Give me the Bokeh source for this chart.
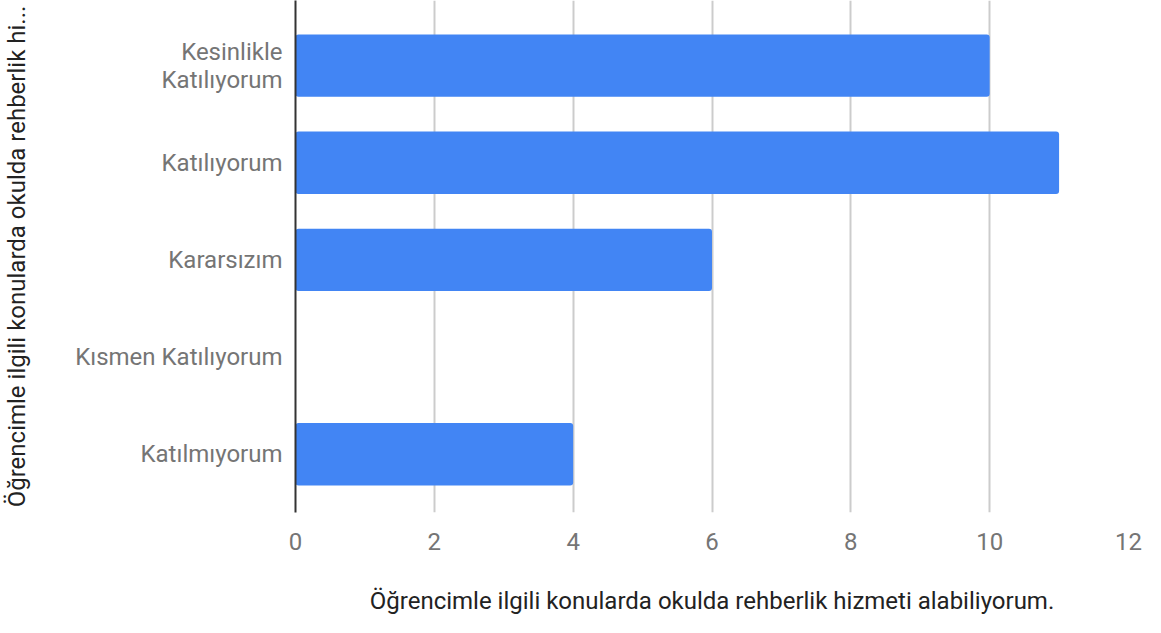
from bokeh.plotting import figure
from bokeh.models import Range1d, FixedTicker, ColumnDataSource
from bokeh.embed import file_html
from bokeh.resources import INLINE

categories = ["Kesinlikle\nKatılıyorum", "Katılıyorum", "Kararsızım", "Kısmen Katılıyorum", "Katılmıyorum"]
values = [10, 11, 6, 0, 4]
x_ticks = [0, 2, 4, 6, 8, 10, 12]
x_title = "Öğrencimle ilgili konularda okulda rehberlik hizmeti alabiliyorum."
y_title = "Öğrencimle ilgili konularda okulda rehberlik hi..."

n = len(categories)
pos = list(range(n))
src = ColumnDataSource(dict(y=pos, v=values))

p = figure(width=1145, height=617, output_backend="svg", toolbar_location=None,
           x_range=Range1d(0, 12), y_range=Range1d(n - 0.4, -0.67))
p.min_border_left = 288
p.min_border_right = 17
p.min_border_top = 0
p.min_border_bottom = 100
p.outline_line_color = None
p.background_fill_color = "white"
p.border_fill_color = "white"

p.hbar(y="y", right="v", left=0, height=0.642, source=src,
       fill_color="#4285F4", line_color=None, border_radius=3)

font = "Roboto"
# x axis
xa = p.xaxis[0]
xa.ticker = FixedTicker(ticks=x_ticks)
xa.axis_line_color = None
xa.major_tick_line_color = None
xa.minor_tick_line_color = None
xa.major_label_standoff = 14
xa.major_label_text_font = font
xa.major_label_text_font_size = "24px"
xa.major_label_text_color = "#757575"
xa.axis_label = x_title
xa.axis_label_text_font = font
xa.axis_label_text_font_size = "24px"
xa.axis_label_text_font_style = "normal"
xa.axis_label_text_color = "#222222"
xa.axis_label_standoff = 34

# y axis
ya = p.yaxis[0]
ya.ticker = FixedTicker(ticks=pos)
ya.major_label_overrides = {i: c for i, c in zip(pos, categories)}
ya.axis_line_color = "#333333"
ya.axis_line_width = 2
ya.major_tick_line_color = None
ya.minor_tick_line_color = None
ya.major_label_standoff = 7
ya.major_label_text_font = font
ya.major_label_text_font_size = "24px"
ya.major_label_text_line_height = 1.0
ya.major_label_text_color = "#757575"
ya.axis_label = y_title
ya.axis_label_text_font = font
ya.axis_label_text_font_size = "24px"
ya.axis_label_text_font_style = "normal"
ya.axis_label_text_color = "#222222"
ya.axis_label_standoff = 41

p.xgrid.grid_line_color = "#cccccc"
p.xgrid.grid_line_width = 2
p.xgrid.ticker = FixedTicker(ticks=x_ticks)
p.ygrid.grid_line_color = None

open("out.html", "w").write(file_html(p, INLINE))
